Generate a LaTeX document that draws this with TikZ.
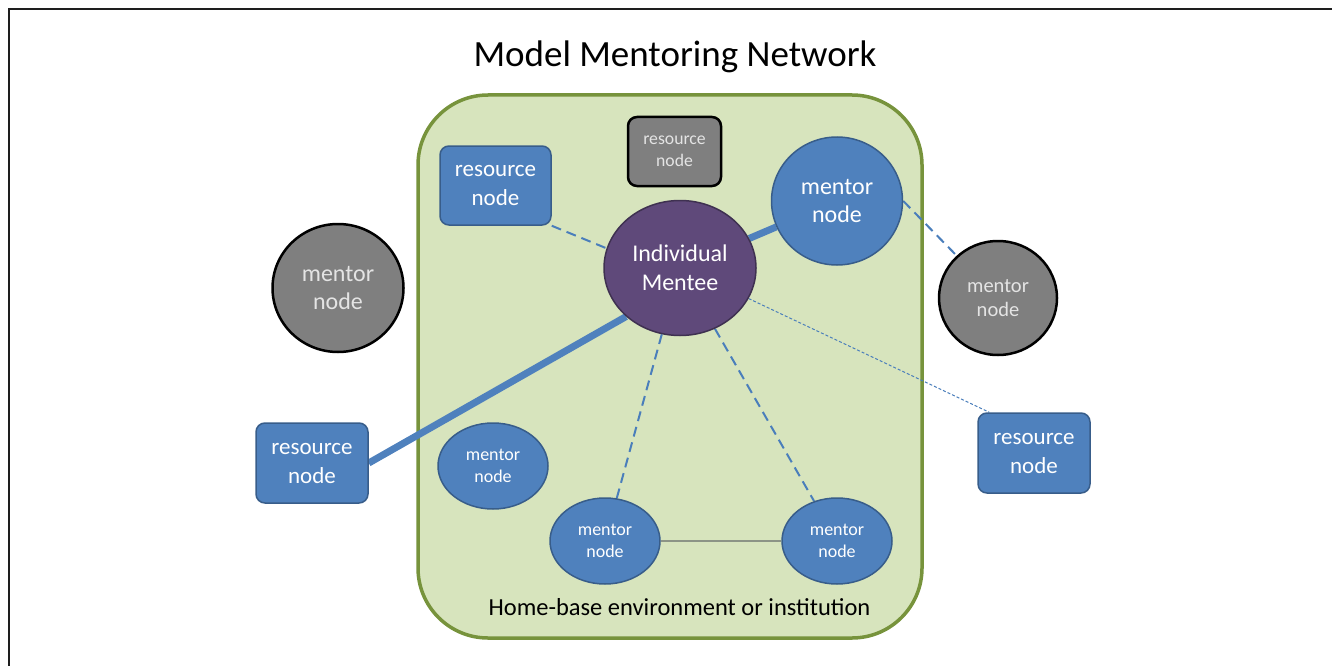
\documentclass[tikz,border=0pt]{standalone}
\usepackage{fontspec}
\setmainfont{Carlito}
\usetikzlibrary{shapes.geometric}
\definecolor{homefill}{HTML}{D7E4BD}
\definecolor{homeborder}{HTML}{77933C}
\definecolor{bluefill}{HTML}{4F81BD}
\definecolor{blueborder}{HTML}{385D8A}
\definecolor{linkblue}{HTML}{4A7EBB}
\definecolor{menteefill}{HTML}{5F497A}
\definecolor{menteeborder}{HTML}{3F3151}
\definecolor{grayfill}{HTML}{7F7F7F}
\definecolor{graytext}{HTML}{E4E4E4}
\definecolor{plaingray}{HTML}{8C9486}
\definecolor{framecol}{HTML}{1E1E1E}
\newcommand\fsz[2]{\fontsize{#1}{#2}\selectfont}
\pgfdeclarelayer{back}\pgfdeclarelayer{mid}\pgfsetlayers{back,mid,main}
\begin{document}
\begin{tikzpicture}[x=1pt,y=-1pt,
  bluebox/.style={draw=blueborder, fill=bluefill, line width=1.5pt, rounded corners=9pt,
    text=white, align=center, inner sep=0pt, minimum width=111pt, minimum height=79pt},
  graybox/.style={draw=black, fill=grayfill, line width=2.5pt, rounded corners=9pt,
    text=graytext, align=center, inner sep=0pt},
  bluecirc/.style={ellipse, draw=blueborder, fill=bluefill, line width=1.5pt,
    text=white, align=center, inner sep=0pt},
  graycirc/.style={ellipse, draw=black, fill=grayfill, line width=2.5pt,
    text=graytext, align=center, inner sep=0pt},
  dashlink/.style={draw=linkblue, line width=2pt, dash pattern=on 10pt off 6pt},
  thicklink/.style={draw=bluefill, line width=7pt},
  dotlink/.style={draw=linkblue, line width=1pt, dash pattern=on 3pt off 2pt},
  plainlink/.style={draw=plaingray, line width=2pt},
  smallmentor/.style={bluecirc, minimum width=110pt, minimum height=86pt, font=\fsz{18}{22}}
]
\useasboundingbox (0,0) rectangle (1332,666);
% frame
\draw[framecol, line width=2pt] (8.5,666) -- (8.5,9.5) -- (1332,9.5);

% title
\node[font=\fsz{37}{40}, anchor=center] (title) at (675,57) {Model Mentoring Network};

% home base
\begin{pgfonlayer}{back}
\node[draw=homeborder, fill=homefill, line width=3.5pt, rounded corners=70pt,
  minimum width=504pt, minimum height=543pt, inner sep=0pt] (home) at (670,366.5) {};
\end{pgfonlayer}
\node[font=\fsz{24.5}{28}] (hometext) at (679.5,607) {Home-base environment or institution};

% nodes
\node[graybox, minimum width=93pt, minimum height=69pt, font=\fsz{17.7}{22}] (resTop) at (674.5,151.5) {resource\\node};
\node[bluebox, font=\fsz{23}{29}] (resTL) at (495.5,185.5) {resource\\node};
\node[bluecirc, minimum width=131pt, minimum height=128pt, font=\fsz{24}{28}] (mentorTR) at (837,201) {mentor\\node};
\node[ellipse, draw=menteeborder, fill=menteefill, line width=1.5pt, text=white, align=center,
  inner sep=0pt, minimum width=152pt, minimum height=135pt, font=\fsz{24}{29}] (mentee) at (680,268) {Individual\\Mentee};
\node[graycirc, minimum width=131pt, minimum height=128pt, font=\fsz{24}{28}] (mentorL) at (338,288) {mentor\\node};
\node[graycirc, minimum width=118pt, minimum height=114pt, font=\fsz{20.5}{24}] (mentorR) at (998,298) {mentor\\node};
\node[bluebox, minimum width=112pt, minimum height=80pt, font=\fsz{23}{29}] (resL) at (312,463) {resource\\node};
\node[bluebox, minimum width=112pt, minimum height=80pt, font=\fsz{23}{29}] (resR) at (1034,453) {resource\\node};
\node[smallmentor] (mentorML) at (493,466) {mentor\\node};
\node[smallmentor] (mentorBL) at (605,541) {mentor\\node};
\node[smallmentor] (mentorBR) at (837,541) {mentor\\node};

% connectors
\begin{pgfonlayer}{mid}
\draw[thicklink] (resL.east) -- (mentee.222);
\draw[thicklink] (mentee) -- (mentorTR);
\draw[dashlink] (resTL.south east) -- (mentee.165);
\draw[dashlink] (mentorTR.east) -- (mentorR);
\draw[dotlink] (mentee.-24) -- ([xshift=12pt]resR.north west);
\draw[dashlink] (mentee) -- (mentorBL);
\draw[dashlink] (mentee) -- (mentorBR);
\draw[plainlink] (mentorBL) -- (mentorBR);
\end{pgfonlayer}
\end{tikzpicture}
\end{document}
